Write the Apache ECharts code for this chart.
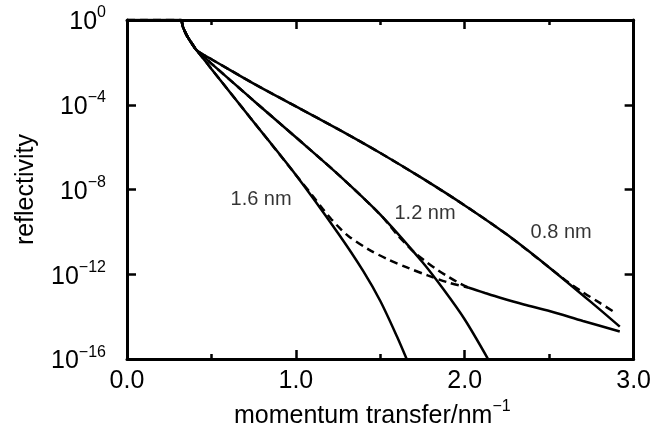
<!DOCTYPE html>
<html>
<head>
<meta charset="utf-8">
<script src="https://cdn.jsdelivr.net/npm/echarts@6/dist/echarts.min.js"></script>
<style>html,body{margin:0;padding:0;background:#fff}#c{width:654px;height:434px}</style>
</head>
<body>
<div id="c"></div>
<script>
// momentum transfer q (nm^-1) and reflectivity R
const q08 = [0, 0.1, 0.2, 0.3, 0.32, 0.33, 0.353, 0.39, 0.41, 0.45, 0.5, 0.75, 1.0, 1.25, 1.5, 1.75, 2.0, 2.25, 2.5, 2.75, 2.918];
const r08 = [1, 1, 1, 1, 1, 0.5, 1.95e-1, 6.6e-2, 3.9e-2, 2.34e-2, 1.41e-2, 1e-3, 8.41e-5, 7.08e-6, 5.31e-7, 3.35e-8, 1.78e-9, 7.5e-11, 2.11e-12, 4.73e-14, 3.39e-15];

const q12 = [0, 0.1, 0.2, 0.3, 0.32, 0.33, 0.353, 0.39, 0.41, 0.45, 0.5, 0.75, 1.0, 1.25, 1.5, 1.75, 1.875, 2.0, 2.138];
const r12 = [1, 1, 1, 1, 1, 0.5, 1.95e-1, 6.6e-2, 3.9e-2, 2e-2, 8.75e-3, 1.56e-4, 2.93e-6, 5.21e-8, 6.56e-10, 3.69e-12, 1.9e-13, 7.36e-15, 1e-16];

const q16 = [0, 0.1, 0.2, 0.3, 0.32, 0.33, 0.353, 0.39, 0.41, 0.45, 0.5, 0.75, 1.0, 1.25, 1.4, 1.5, 1.6, 1.656];
const r16 = [1, 1, 1, 1, 1, 0.5, 1.95e-1, 6.6e-2, 3.9e-2, 1.58e-2, 4.9e-3, 1.55e-5, 4.9e-8, 8.7e-11, 1.38e-12, 5.5e-14, 1.1e-15, 1e-16];

// dashed curves
const qDash16 = [0, 0.1, 0.2, 0.3, 0.32, 0.33, 0.353, 0.39, 0.41, 0.45, 0.5, 0.75, 1.0, 1.1, 1.16, 1.21, 1.26, 1.312, 1.43, 1.547, 1.665, 1.78, 1.9, 2.02];
const rDash16 = [1, 1, 1, 1, 1, 0.5, 1.95e-1, 6.6e-2, 3.9e-2, 1.58e-2, 4.9e-3, 1.55e-5, 4.9e-8, 5e-9, 1.2e-9, 3.98e-10, 1.5e-10, 6.3e-11, 1.51e-11, 5e-12, 2e-12, 8.9e-13, 4.17e-13, 2.4e-13];

const qDash12 = [0, 0.1, 0.2, 0.3, 0.32, 0.33, 0.353, 0.39, 0.41, 0.45, 0.5, 0.75, 1.0, 1.25, 1.5, 1.606, 1.65, 1.706, 1.77, 1.84, 1.9, 1.96, 2.02];
const rDash12 = [1, 1, 1, 1, 1, 0.5, 1.95e-1, 6.6e-2, 3.9e-2, 2e-2, 8.75e-3, 1.56e-4, 2.93e-6, 5.21e-8, 6.56e-10, 6.5e-11, 2.8e-11, 1e-11, 4e-12, 1.58e-12, 7.9e-13, 4.17e-13, 2.4e-13];

const qDash08 = [0, 0.1, 0.2, 0.3, 0.32, 0.33, 0.353, 0.39, 0.41, 0.45, 0.5, 0.75, 1.0, 1.25, 1.5, 1.75, 2.0, 2.25, 2.5, 2.6, 2.7, 2.8, 2.89];
const rDash08 = [1, 1, 1, 1, 1, 0.5, 1.95e-1, 6.6e-2, 3.9e-2, 2.34e-2, 1.41e-2, 1e-3, 8.41e-5, 7.08e-6, 5.31e-7, 3.35e-8, 1.78e-9, 7.5e-11, 2.11e-12, 5e-13, 1.41e-13, 4.47e-14, 1.58e-14];

// solid tail where the dashed curves merge
const qTail = [2.02, 2.07, 2.12, 2.21, 2.35, 2.506, 2.7, 2.918];
const rTail = [2.4e-13, 1.78e-13, 1.32e-13, 7.9e-14, 3.8e-14, 1.82e-14, 6.3e-15, 2e-15];

// curve labels
const labelText = ['1.6 nm', '1.2 nm', '0.8 nm'];
const labelQ = [0.794, 1.765, 2.571];
const labelR = [3.4e-9, 7.4e-10, 9.5e-11];

const xTicks = [0, 3, 1];        // min, max, interval
const yTicks = [1e-16, 1, 4];    // min, max, decade interval

const FONT = '"Liberation Sans", Arial, Helvetica, sans-serif';
const zip = (a, b) => a.map((v, i) => [v, b[i]]);

const solid = (name, q, r) => ({
  name, type: 'line', data: zip(q, r), showSymbol: false, smooth: 0.3,
  lineStyle: { color: '#000', width: 2.5 }, z: 3
});
const dashed = (name, q, r) => ({
  name, type: 'line', data: zip(q, r), showSymbol: false, smooth: 0.3,
  lineStyle: { color: '#000', width: 2.5, type: [8, 5] }, z: 2
});

const tickStyle = { color: '#000', width: 2.5 };
const axisLineStyle = { color: '#000', width: 3 };

const chart = echarts.init(document.getElementById('c'), null, { renderer: 'canvas' });
chart.setOption({
  animation: false,
  backgroundColor: '#fff',
  textStyle: { fontFamily: FONT },
  grid: { left: 127, right: 17, top: 20, bottom: 74 },
  xAxis: [
    {
      type: 'value', min: xTicks[0], max: xTicks[1], interval: xTicks[2], position: 'bottom',
      axisLine: { onZero: false, lineStyle: axisLineStyle },
      axisTick: { inside: true, length: 9, lineStyle: tickStyle },
      minorTick: { show: true, splitNumber: 2, length: 5, lineStyle: tickStyle },
      splitLine: { show: false },
      axisLabel: { formatter: v => v.toFixed(1), fontSize: 25, color: '#000', margin: 10, fontFamily: FONT },
      name: '{a|momentum transfer/nm}{s|−1}',
      nameLocation: 'middle', nameGap: 36,
      nameTextStyle: {
        padding: [0, 16, 0, 0],
        rich: {
          a: { fontSize: 25, color: '#000', fontFamily: FONT, lineHeight: 30, verticalAlign: 'bottom' },
          s: { fontSize: 16, color: '#000', fontFamily: FONT, lineHeight: 30, verticalAlign: 'top' }
        }
      }
    },
    {
      type: 'value', min: xTicks[0], max: xTicks[1], interval: xTicks[2], position: 'top',
      axisLine: { onZero: false, lineStyle: axisLineStyle },
      axisTick: { inside: true, length: 9, lineStyle: tickStyle },
      minorTick: { show: true, splitNumber: 2, length: 5, lineStyle: tickStyle },
      splitLine: { show: false },
      axisLabel: { show: false }
    }
  ],
  yAxis: [
    {
      type: 'log', logBase: 10, min: yTicks[0], max: yTicks[1], interval: yTicks[2], position: 'left',
      axisLine: { onZero: false, lineStyle: axisLineStyle },
      axisTick: { inside: true, length: 9, lineStyle: tickStyle },
      splitLine: { show: false },
      minorTick: { show: false },
      axisLabel: {
        margin: 21, color: '#000',
        formatter: v => {
          const e = Math.round(Math.log10(v));
          return '{b|10}{s|' + (e === 0 ? '0' : '−' + (-e)) + '}';
        },
        rich: {
          b: { fontSize: 25, color: '#000', fontFamily: FONT, lineHeight: 30, verticalAlign: 'bottom' },
          s: { fontSize: 16, color: '#000', fontFamily: FONT, lineHeight: 30, verticalAlign: 'top' }
        }
      },
      name: 'reflectivity', nameLocation: 'middle', nameGap: 88,
      nameTextStyle: { fontSize: 25, color: '#000', fontFamily: FONT }
    },
    {
      type: 'log', logBase: 10, min: yTicks[0], max: yTicks[1], interval: yTicks[2], position: 'right',
      axisLine: { onZero: false, lineStyle: axisLineStyle },
      axisTick: { inside: true, length: 9, lineStyle: tickStyle },
      splitLine: { show: false },
      axisLabel: { show: false }
    }
  ],
  series: [
    dashed('dashed 1.6 nm', qDash16, rDash16),
    dashed('dashed 1.2 nm', qDash12, rDash12),
    dashed('dashed 0.8 nm', qDash08, rDash08),
    solid('0.8 nm', q08, r08),
    solid('1.2 nm', q12, r12),
    solid('1.6 nm', q16, r16),
    solid('tail', qTail, rTail),
    {
      type: 'scatter', symbolSize: 0, itemStyle: { color: '#000' },
      data: labelQ.map((q, i) => ({ value: [q, labelR[i]], name: labelText[i] })),
      label: { show: true, position: 'inside', formatter: p => p.name, fontSize: 20, color: '#000', textBorderWidth: 0, fontFamily: FONT },
      z: 5
    }
  ]
});
</script>
</body>
</html>
